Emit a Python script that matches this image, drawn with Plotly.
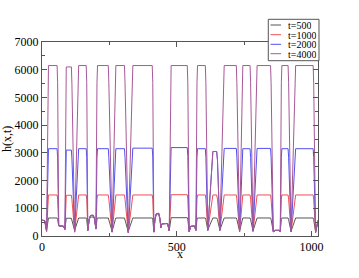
import plotly.graph_objects as go

# shared x keypoints (lattice position)
x_pts = [0, 10, 17,
         22, 24, 56, 58,
         62, 80, 85,
         88, 90, 109, 111,
         121,
         134, 136, 164, 166,
         170, 175, 180, 190, 195, 200,
         204, 206, 246, 248,
         260,
         272, 274, 306, 308,
         320,
         335, 337, 409, 411,
         415, 419, 424, 433, 438, 441, 445, 466, 472,
         477, 479, 539, 541,
         546, 552, 566, 571,
         575, 577, 606, 608,
         615,
         631, 634, 648, 651,
         660,
         674, 676, 721, 723,
         733,
         743, 745, 772, 774,
         783,
         796, 798, 848, 850,
         858, 866, 878, 884,
         888, 890, 913, 915,
         924,
         939, 941, 1006, 1008,
         1015, 1024]

h500 = [570, 555, 200,
        590, 650, 650, 590,
        370, 350, 250,
        580, 640, 640, 580,
        200,
        590, 650, 650, 590,
        220, 600, 680, 690, 620, 260,
        590, 650, 650, 590,
        170,
        590, 650, 650, 590,
        160,
        590, 650, 650, 590,
        170, 600, 790, 800, 600, 300, 440, 450, 200,
        590, 660, 660, 590,
        170, 350, 360, 220,
        590, 650, 650, 590,
        220,
        590, 650, 650, 590,
        220,
        590, 650, 650, 590,
        180,
        590, 650, 650, 590,
        190,
        590, 650, 650, 590,
        170, 210, 210, 180,
        590, 650, 650, 590,
        170,
        590, 650, 650, 590,
        150, 560]

h1000 = [570, 555, 180,
         1330, 1480, 1480, 1330,
         370, 350, 240,
         1320, 1470, 1470, 1320,
         150,
         1330, 1480, 1480, 1330,
         200, 600, 740, 750, 620, 250,
         1330, 1480, 1480, 1330,
         140,
         1330, 1480, 1480, 1330,
         130,
         1330, 1480, 1480, 1330,
         140, 600, 800, 820, 600, 300, 440, 450, 180,
         1340, 1490, 1490, 1340,
         150, 350, 360, 200,
         1330, 1480, 1480, 1330,
         200,
         1330, 1480, 1480, 1330,
         200,
         1330, 1480, 1480, 1330,
         150,
         1330, 1480, 1480, 1330,
         170,
         1330, 1480, 1480, 1330,
         150, 200, 200, 160,
         1330, 1480, 1480, 1330,
         150,
         1330, 1480, 1480, 1330,
         120, 560]

h2000 = [570, 555, 170,
         2830, 3150, 3150, 2830,
         370, 350, 230,
         2790, 3100, 3100, 2790,
         140,
         2830, 3150, 3150, 2830,
         190, 600, 740, 750, 620, 250,
         2830, 3150, 3150, 2830,
         140,
         2830, 3150, 3150, 2830,
         120,
         2850, 3170, 3170, 2850,
         140, 600, 800, 820, 600, 300, 440, 450, 180,
         2870, 3190, 3190, 2870,
         150, 350, 360, 200,
         2830, 3150, 3150, 2830,
         200,
         2750, 3050, 3050, 2750,
         200,
         2840, 3160, 3160, 2840,
         150,
         2830, 3150, 3150, 2830,
         170,
         2840, 3160, 3160, 2840,
         150, 200, 200, 160,
         2830, 3150, 3150, 2830,
         150,
         2830, 3150, 3150, 2830,
         120, 560]

h4000 = [570, 555, 160,
         5530, 6150, 6150, 5530,
         370, 350, 230,
         5490, 6100, 6100, 5490,
         140,
         5530, 6150, 6150, 5530,
         190, 600, 740, 750, 620, 250,
         5530, 6150, 6150, 5530,
         140,
         5530, 6150, 6150, 5530,
         120,
         5530, 6150, 6150, 5530,
         140, 600, 800, 820, 600, 300, 440, 450, 180,
         5530, 6150, 6150, 5530,
         150, 350, 360, 200,
         5530, 6150, 6150, 5530,
         200,
         2750, 3050, 3050, 2750,
         200,
         5530, 6150, 6150, 5530,
         150,
         5530, 6150, 6150, 5530,
         170,
         5530, 6150, 6150, 5530,
         150, 200, 200, 160,
         5530, 6150, 6150, 5530,
         150,
         5530, 6150, 6150, 5530,
         120, 560]

series_names = ["t=500", "t=1000", "t=2000", "t=4000"]
series_vals = [h500, h1000, h2000, h4000]
series_colors = ["#555555", "#f05050", "#5050f0", "#a85898"]

x_ticks = [0, 500, 1000]
y_ticks = [0, 1000, 2000, 3000, 4000, 5000, 6000, 7000]

fig = go.Figure()
for name, vals, col in zip(series_names, series_vals, series_colors):
    fig.add_trace(go.Scatter(x=x_pts, y=vals, mode="lines", name=name,
                             line=dict(color=col, width=1), showlegend=False))

# compact legend box (drawn as decoration in paper coordinates)
leg_rows = [1.0876, 1.0376, 0.9881, 0.9397]
shapes = [dict(type="rect", xref="paper", yref="paper", x0=0.8199, x1=1.0036,
               y0=0.9036, y1=1.117, line=dict(color="#555555", width=1),
               fillcolor="white", layer="above")]
annotations = []
for name, col, yy in zip(series_names, series_colors, leg_rows):
    shapes.append(dict(type="line", xref="paper", yref="paper", x0=0.8279, x1=0.866,
                       y0=yy, y1=yy, line=dict(color=col, width=1), layer="above"))
    annotations.append(dict(xref="paper", yref="paper", x=0.8913, y=yy, text=name,
                            showarrow=False, xanchor="left", yanchor="middle",
                            height=8, borderpad=0, borderwidth=0,
                            font=dict(size=10, family="Liberation Serif", color="black")))

# axis titles
annotations.append(dict(xref="paper", yref="paper", x=0.5, y=-0.0928, text="x",
                        showarrow=False, xanchor="center", yanchor="middle",
                        height=10, borderpad=0,
                        font=dict(size=12, family="Liberation Serif", color="black")))
annotations.append(dict(xref="paper", yref="paper", x=-0.1268, y=0.5, text="h(x,t)",
                        showarrow=False, xanchor="center", yanchor="middle", textangle=-90,
                        font=dict(size=12, family="Liberation Serif", color="black")))

axis_common = dict(showline=True, linecolor="#555555", linewidth=1, mirror="ticks",
                   ticks="inside", ticklen=5, tickcolor="#555555", showgrid=False,
                   zeroline=False, automargin=False,
                   tickfont=dict(size=12, color="black"))

fig.update_layout(
    width=359, height=278,
    margin=dict(l=42, r=41, t=42, b=42),
    paper_bgcolor="white", plot_bgcolor="white",
    font=dict(family="Liberation Serif", size=12, color="black"),
    xaxis=dict(range=[0, 1024], tickvals=x_ticks,
               minor=dict(tickvals=[250, 750], ticks="inside", ticklen=3, tickcolor="#555555"),
               **axis_common),
    yaxis=dict(range=[0, 7000], tickvals=y_ticks,
               minor=dict(dtick=500, ticks="inside", ticklen=3, tickcolor="#555555"),
               **axis_common),
    shapes=shapes,
    annotations=annotations,
    showlegend=False,
)

fig.write_html("out.html", config={"displayModeBar": False},
               post_script="document.body.style.margin='0';document.body.style.padding='0';")
